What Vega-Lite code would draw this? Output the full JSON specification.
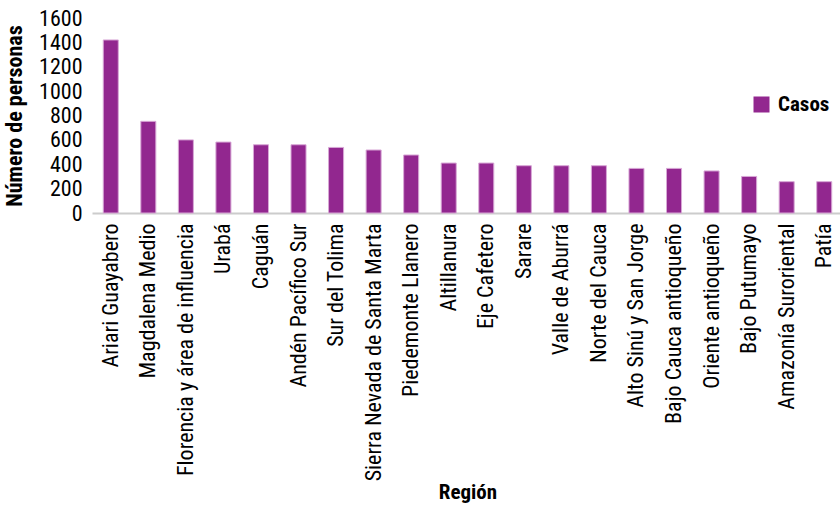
{
  "$schema": "https://vega.github.io/schema/vega-lite/v6.json",
  "width": 751,
  "height": 195,
  "autosize": {"type": "none"},
  "padding": {"left": 92, "top": 18, "right": 0, "bottom": 297},
  "background": "white",
  "config": {
    "view": {"stroke": null},
    "font": "Liberation Sans Narrow, Roboto Condensed, DejaVu Sans Condensed, sans-serif"
  },
  "data": {
    "values": [
      {"region": "Ariari Guayabero", "serie": "Casos", "casos": 1420},
      {"region": "Magdalena Medio", "serie": "Casos", "casos": 752},
      {"region": "Florencia y área de influencia", "serie": "Casos", "casos": 600},
      {"region": "Urabá", "serie": "Casos", "casos": 582},
      {"region": "Caguán", "serie": "Casos", "casos": 560},
      {"region": "Andén Pacífico Sur", "serie": "Casos", "casos": 560},
      {"region": "Sur del Tolima", "serie": "Casos", "casos": 538},
      {"region": "Sierra Nevada de Santa Marta", "serie": "Casos", "casos": 517},
      {"region": "Piedemonte Llanero", "serie": "Casos", "casos": 476},
      {"region": "Altillanura", "serie": "Casos", "casos": 410},
      {"region": "Eje Cafetero", "serie": "Casos", "casos": 410},
      {"region": "Sarare", "serie": "Casos", "casos": 388},
      {"region": "Valle de Aburrá", "serie": "Casos", "casos": 388},
      {"region": "Norte del Cauca", "serie": "Casos", "casos": 388},
      {"region": "Alto Sinú y San Jorge", "serie": "Casos", "casos": 366},
      {"region": "Bajo Cauca antioqueño", "serie": "Casos", "casos": 366},
      {"region": "Oriente antioqueño", "serie": "Casos", "casos": 345},
      {"region": "Bajo Putumayo", "serie": "Casos", "casos": 300},
      {"region": "Amazonía Suroriental", "serie": "Casos", "casos": 257},
      {"region": "Patía", "serie": "Casos", "casos": 257}
    ]
  },
  "mark": {"type": "bar", "stroke": "#d8a8d6", "strokeWidth": 1},
  "encoding": {
    "x": {
      "field": "region",
      "type": "nominal",
      "sort": null,
      "scale": {"paddingInner": 0.6, "paddingOuter": 0.3},
      "axis": {
        "title": "Región",
        "titleFontSize": 21,
        "titleFontWeight": "bold",
        "titleColor": "black",
        "titlePadding": 0,
        "titleY": 268,
        "labelAngle": -90,
        "labelFontSize": 22,
        "labelColor": "black",
        "labelPadding": 10,
        "labelLimit": 400,
        "ticks": false,
        "domainColor": "#cccccc",
        "domainWidth": 2
      }
    },
    "y": {
      "field": "casos",
      "type": "quantitative",
      "scale": {"domain": [0, 1600], "nice": false},
      "axis": {
        "title": "Número de personas",
        "titleFontSize": 22,
        "titleFontWeight": "bold",
        "titleColor": "black",
        "titlePadding": 12,
        "format": "d",
        "values": [0, 200, 400, 600, 800, 1000, 1200, 1400, 1600],
        "labelFontSize": 22,
        "labelColor": "black",
        "labelPadding": 10,
        "ticks": false,
        "domain": false,
        "grid": false
      }
    },
    "color": {
      "field": "serie",
      "type": "nominal",
      "scale": {"range": ["#92278f"]},
      "legend": {
        "title": null,
        "orient": "none",
        "legendX": 659,
        "legendY": 76,
        "symbolType": "square",
        "symbolSize": 256,
        "symbolStrokeWidth": 0,
        "symbolOpacity": 1,
        "labelFontSize": 21,
        "labelFontWeight": "bold",
        "labelColor": "black",
        "labelOffset": 6
      }
    }
  }
}
